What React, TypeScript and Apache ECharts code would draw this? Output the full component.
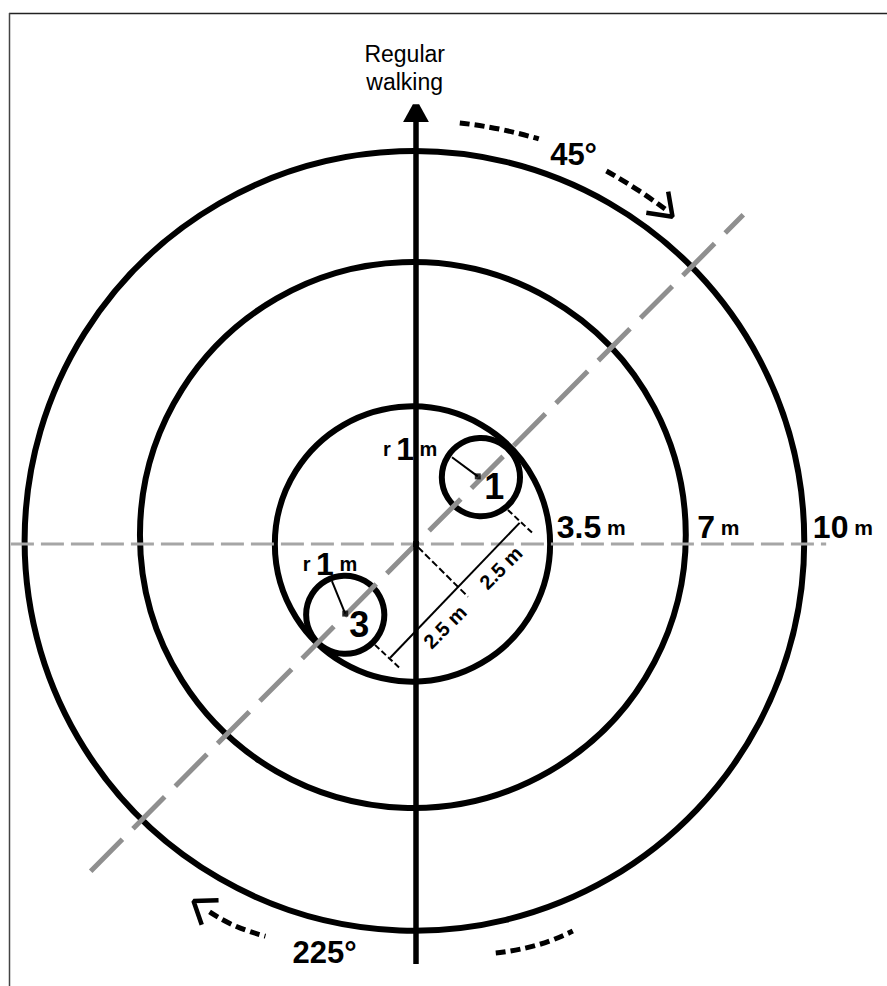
import React, { useEffect, useRef } from "react";
import * as echarts from "echarts";

const W = 887, H = 986, CX = 416, CY = 544, PX = 39.1;

// rings: [centre x, centre y, radius] in metres
const rings = [[-0.09, 0, 3.52], [-0.08, 0.23, 6.98], [-0.04, 0.08, 9.97]];
const plots = [[1.66, 1.71, 1], [-1.81, -1.81, 1]];
const centres = [[0, 0], [1.58, 1.73], [-1.81, -1.78]];

const walkingAxis = [[0, 10.79], [0, -10.74]];
const walkingHead = [[-0.33, 10.79], [0.33, 10.79], [0.08, 11.25], [-0.08, 11.25]];
const crossAxis = [[-10.36, 0], [10.49, 0]];
const diagonal = [[-8.32, -8.37], [8.37, 8.42]];

const radius1 = [[0.92, 2.22], [1.58, 1.73]];
const radius3 = [[-2.15, -0.95], [-1.81, -1.78]];
const dimMain = [[-0.66, -2.91], [2.65, 0.54]];
const dimTickA = [[2.35, 0.87], [2.98, 0.28]];
const dimTickB = [[-1.05, -2.58], [-0.43, -3.16]];
const dimMid = [[0.05, -0.08], [1.33, -1.35]];

const arcA = [[1.12, 10.77], [2.14, 10.61], [3.14, 10.36]];
const arcB = [[4.87, 9.54], [5.71, 9.03], [6.43, 8.52]];
const headB = [[6.45, 9.01], [6.56, 8.37], [5.89, 8.47]];
const arcC = [[-5.28, -9.41], [-4.62, -9.77], [-3.85, -10.03]];
const headC = [[-5.05, -9.11], [-5.69, -9.13], [-5.48, -9.74]];
const arcD = [[2.04, -10.46], [3.09, -10.26], [4.01, -9.9]];

const titleLines = [
  { pos: [-0.29, 12.53], text: "Regular" },
  { pos: [-0.29, 11.82], text: "walking" },
];
const distanceLabels = [
  { pos: [3.6, 0.43], big: "3.5", small: "m" },
  { pos: [7.19, 0.43], big: "7", small: "m" },
  { pos: [10.15, 0.43], big: "10", small: "m" },
];
const angleLabels = [
  { pos: [4.03, 9.95], text: "45°" },
  { pos: [-2.34, -10.46], text: "225°" },
];
const radiusLabels = [
  { pos: [-0.15, 2.43], text: "{s|r }{b|1}{s| m}" },
  { pos: [-2.2, -0.5], text: "{s|r }{b|1}{s| m}" },
];
const plotNumbers = [
  { pos: [2.0, 1.47], text: "1" },
  { pos: [-1.45, -2.07], text: "3" },
];
const dimLabels = [
  { pos: [0.74, -2.12], text: "2.5 m" },
  { pos: [2.17, -0.61], text: "2.5 m" },
];

const line = (data: number[][], color: string, width: number, type: any = "solid", smooth = false) => ({
  type: "line",
  data,
  smooth,
  symbol: "none",
  silent: true,
  lineStyle: { color, width, type, cap: "butt" },
});

const textSeries = (items: any[], styleFn: (d: any) => any) => ({
  type: "custom",
  coordinateSystem: "cartesian2d",
  silent: true,
  clip: false,
  data: items.map((d, i) => [d.pos[0], d.pos[1], i]),
  renderItem: (_: any, api: any) => {
    const i = api.value(2);
    const [x, y] = api.coord([api.value(0), api.value(1)]);
    const s = styleFn(items[i]);
    return {
      type: "text",
      x,
      y,
      rotation: s.rotation || 0,
      style: {
        text: s.text,
        fontFamily: "Liberation Sans",
        fontSize: s.fontSize,
        fontWeight: s.fontWeight,
        rich: s.rich,
        fill: "#000",
        align: s.align || "center",
        verticalAlign: "middle",
      },
    };
  },
});

const circles = (data: number[][], lineWidth: number) => ({
  type: "custom",
  coordinateSystem: "cartesian2d",
  silent: true,
  data,
  renderItem: (_: any, api: any) => {
    const c = api.coord([api.value(0), api.value(1)]);
    const r = api.size([api.value(2), 0])[0];
    return { type: "circle", shape: { cx: c[0], cy: c[1], r }, style: { fill: "none", stroke: "#000", lineWidth } };
  },
});

const polygon = (data: number[][]) => ({
  type: "custom",
  coordinateSystem: "cartesian2d",
  silent: true,
  data: [0],
  encode: { x: [], y: [] },
  renderItem: (_: any, api: any) => ({
    type: "polygon",
    shape: { points: data.map((p) => api.coord(p)) },
    style: { fill: "#000" },
  }),
});

export default function App() {
  const ref = useRef<HTMLDivElement>(null);
  useEffect(() => {
    document.body.style.margin = "0";
    const chart = echarts.init(ref.current!, null, { renderer: "svg" });
    const bigRich = (b: number, s: number) => ({
      b: { fontSize: b, fontWeight: "bold", fontFamily: "Liberation Sans", fill: "#000" },
      s: { fontSize: s, fontWeight: "bold", fontFamily: "Liberation Sans", fill: "#000" },
    });
    chart.setOption({
      animation: false,
      backgroundColor: "#fff",
      grid: { left: 0, top: 0, width: W, height: H },
      xAxis: { type: "value", min: -CX / PX, max: (W - CX) / PX, show: false },
      yAxis: { type: "value", min: -(H - CY) / PX, max: CY / PX, show: false },
      graphic: [
        { type: "line", shape: { x1: 9, y1: 13.5, x2: W, y2: 13.5 }, style: { stroke: "#222", lineWidth: 1.5 } },
        { type: "line", shape: { x1: 9.5, y1: 13, x2: 9.5, y2: H }, style: { stroke: "#444", lineWidth: 1.5 } },
      ],
      series: [
        circles(rings, 6),
        circles(plots, 6),
        line(crossAxis, "#a6a6a6", 3, [23, 7]),
        line(diagonal, "#8f8f8f", 5, [45, 15]),
        line(walkingAxis, "#000", 5.5),
        polygon(walkingHead),
        line(radius1, "#000", 2),
        line(radius3, "#000", 2),
        line(dimMain, "#000", 2),
        line(dimTickA, "#000", 2, [6, 3]),
        line(dimTickB, "#000", 2, [6, 3]),
        line(dimMid, "#000", 2, [7, 3]),
        line(arcA, "#000", 5, [10, 5], true),
        line(arcB, "#000", 5, [10, 5], true),
        line(headB, "#000", 4.5),
        line(arcC, "#000", 5, [10, 5], true),
        line(headC, "#000", 4.5),
        line(arcD, "#000", 5, [10, 5], true),
        {
          type: "scatter",
          silent: true,
          symbol: "rect",
          symbolSize: 6,
          itemStyle: { color: "#000" },
          data: centres,
          z: 5,
        },
        textSeries(titleLines, (d) => ({ text: d.text, fontSize: 23 })),
        textSeries(angleLabels, (d) => ({ text: d.text, fontSize: 31, fontWeight: "bold" })),
        textSeries(distanceLabels, (d) => ({
          text: `{b|${d.big}}{s| ${d.small}}`,
          align: "left",
          rich: bigRich(32, 21),
        })),
        textSeries(radiusLabels, (d) => ({ text: d.text, rich: bigRich(32, 20) })),
        textSeries(plotNumbers, (d) => ({ text: d.text, fontSize: 36, fontWeight: "bold" })),
        textSeries(dimLabels, (d) => ({ text: d.text, fontSize: 20, fontWeight: "bold", rotation: Math.PI / 4 })),
      ],
    });
    return () => chart.dispose();
  }, []);
  return <div ref={ref} style={{ position: "absolute", left: 0, top: 0, width: W, height: H }} />;
}
